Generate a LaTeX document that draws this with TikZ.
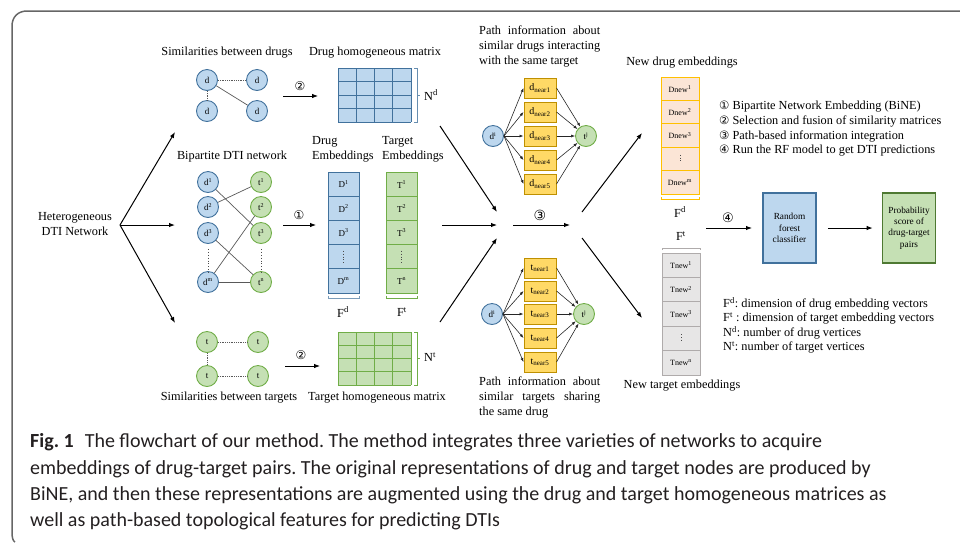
\documentclass[tikz,border=0pt]{standalone}
\usepackage{fontspec}
\setmainfont{Liberation Serif}
\newfontfamily\capfont{Carlito}
\newfontfamily\numfont{DejaVu Sans}
\usetikzlibrary{arrows.meta,positioning}
\frenchspacing

\definecolor{dfill}{HTML}{BDD7EE}
\definecolor{dline}{HTML}{41719C}
\definecolor{tfill}{HTML}{C5E0B4}
\definecolor{tline}{HTML}{70AD47}
\definecolor{nfill}{HTML}{FFD966}
\definecolor{nline}{HTML}{BF9000}
\definecolor{dnfill}{HTML}{FBE5D6}
\definecolor{dnline}{HTML}{FFC000}
\definecolor{tnfill}{HTML}{E7E6E6}
\definecolor{tnline}{HTML}{AFABAB}
\definecolor{edge}{HTML}{595959}
\definecolor{frame}{HTML}{666666}
\definecolor{captext}{HTML}{231F20}

\tikzset{
  lbl/.style={font=\fontsize{12.3}{14.8}\selectfont, inner sep=0pt},
  dnode/.style={circle, draw=dline, fill=dfill, line width=0.9pt, minimum size=21pt, inner sep=0pt, font=\fontsize{9}{9}\selectfont},
  tnode/.style={dnode, draw=tline, fill=tfill},
  dcell/.style={rectangle, draw=dline, fill=dfill, line width=0.9pt, minimum width=31pt, minimum height=24.2pt, inner sep=0pt, font=\fontsize{9}{9}\selectfont},
  tcell/.style={dcell, draw=tline, fill=tfill},
  dncell/.style={dcell, draw=dnline, fill=dnfill, minimum width=38pt, minimum height=23.4pt, font=\fontsize{8}{8}\selectfont},
  tncell/.style={dncell, draw=tnline, fill=tnfill, minimum height=24.4pt},
  nearbox/.style={rectangle, draw=nline, fill=nfill, line width=1pt, minimum width=32pt, minimum height=20pt, inner sep=0pt, font=\fontsize{10}{10}\selectfont},
  arr/.style={-{Latex[length=6pt,width=4.5pt]}, line width=1pt},
  sarr/.style={-{Latex[length=4pt,width=3pt]}, line width=0.6pt, draw=black!85},
  vdot/.style={dotted, line width=0.9pt, draw=black!70},
  num/.style={font=\numfont\fontsize{12}{12}\selectfont, inner sep=0pt},
  bigbox/.style={rectangle, line width=1.6pt, minimum width=53pt, minimum height=70pt, inner sep=0pt, align=center, font=\fontsize{9.3}{11.4}\selectfont},
  capline/.style={anchor=west, inner sep=0pt, text=captext, font=\capfont\fontsize{20}{20}\selectfont}
}

\begin{document}
\begin{tikzpicture}[x=1pt, y=-1pt]
\useasboundingbox (0,0) rectangle (960,542);

% frame
\draw[frame, line width=1.5pt] (960,11) -- (27,11) .. controls (18,11) and (12,17) .. (12,26) -- (12,532) .. controls (12,538) and (13,541) .. (15,542);

% heterogeneous network
\node[lbl, align=center] (het) at (75,224) {Heterogeneous\\DTI Network};
\coordinate (hetout) at (120,225);
\coordinate (simin) at (175,132);
\coordinate (bipin) at (175,225);
\coordinate (tsimin) at (175,323);
\draw[arr] (hetout) -- (simin);
\draw[arr] (hetout) -- (bipin);
\draw[arr] (hetout) -- (tsimin);

% similarities between drugs
\node[lbl] (simdtitle) at (227,53) {Similarities between drugs};
\node[dnode] (sd1) at (207,80) {d};
\node[dnode] (sd2) at (257,80) {d};
\node[dnode] (sd3) at (207,111) {d};
\node[dnode] (sd4) at (257,111) {d};
\draw[edge, densely dotted, line width=0.8pt] (sd1) -- (sd2);
\draw[edge, densely dotted, line width=0.8pt] (sd1) -- (sd3);
\draw[edge, line width=0.7pt] (sd1) -- (sd4);

% similarities between targets
\node[lbl] (simttitle) at (229,398) {Similarities between targets};
\node[tnode] (st1) at (207,342) {t};
\node[tnode] (st2) at (258,342) {t};
\node[tnode] (st3) at (207,376) {t};
\node[tnode] (st4) at (258,376) {t};
\draw[edge, densely dotted, line width=0.8pt] (st1) -- (st2);
\draw[edge, densely dotted, line width=0.8pt] (st1) -- (st3);
\draw[edge, densely dotted, line width=0.8pt] (st3) -- (st4);

% bipartite DTI network
\node[lbl] (biptitle) at (232,157) {Bipartite DTI network};
\foreach \i/\y/\s in {1/182/1,2/207/2,3/233/3,m/282/m}{
  \node[dnode] (bd\i) at (208,\y) {d\textsuperscript{\s}};
}
\foreach \i/\y/\s in {1/182/1,2/207/2,3/233/3,n/282/n}{
  \node[tnode] (bt\i) at (261,\y) {t\textsuperscript{\s}};
}
\draw[vdot] (bd3.south) ++(0,5) coordinate (bdd1) -- ++(0,24) coordinate (bdd2);
\draw[vdot] (bt3.south) ++(0,5) coordinate (btd1) -- ++(0,24) coordinate (btd2);
\draw[edge, line width=0.7pt] (bd1) -- (bt3);
\draw[edge, line width=0.7pt] (bd2) -- (bt1);
\draw[edge, line width=0.7pt] (bd3) -- (btn);
\draw[edge, line width=0.7pt] (bdm) -- (bt2);
\draw[edge, line width=0.7pt] (bdm) -- (btn);

% step arrows 1 and 2
\coordinate (s2a) at (283,96);  \coordinate (s2b) at (318,96);
\coordinate (s1a) at (283,225); \coordinate (s1b) at (316,225);
\coordinate (s2c) at (285,366); \coordinate (s2d) at (320,366);
\draw[arr, line width=0.8pt] (s2a) -- (s2b);
\draw[arr, line width=0.8pt] (s1a) -- (s1b);
\draw[arr, line width=0.8pt] (s2c) -- (s2d);
\node[num] (n2a) at (300,86) {②};
\node[num] (n1) at (299,215) {①};
\node[num] (n2b) at (301,355) {②};

% drug homogeneous matrix
\node[lbl] (dmtitle) at (375,53) {Drug homogeneous matrix};
\fill[dfill] (338,68) rectangle (411,122);
\foreach \k in {0,...,4}{
  \draw[dline, line width=0.9pt] ({338+\k*18.25},68) -- ({338+\k*18.25},122);
  \draw[dline, line width=0.9pt] (338,{68+\k*13.5}) -- (411,{68+\k*13.5});
}
\draw[dline!80, line width=0.8pt] (414,68) -- (417,68) -- (417,122) -- (414,122);
\draw[dline!80, line width=0.8pt] (417,95) -- (420,95);
\node[lbl, anchor=west] (nd) at (424,95) {N\textsuperscript{d}};

% target homogeneous matrix
\node[lbl] (tmtitle) at (377,398) {Target homogeneous matrix};
\fill[tfill] (338,332) rectangle (411,385);
\foreach \k in {0,...,4}{
  \draw[tline, line width=0.9pt] ({338+\k*18.25},332) -- ({338+\k*18.25},385);
  \draw[tline, line width=0.9pt] (338,{332+\k*13.25}) -- (411,{332+\k*13.25});
}
\draw[tline, line width=0.8pt] (414,332) -- (417,332) -- (417,385) -- (414,385);
\draw[tline, line width=0.8pt] (417,358) -- (420,358);
\node[lbl, anchor=west] (nt) at (424,357) {N\textsuperscript{t}};

% drug and target embeddings
\node[lbl, align=left, anchor=north west] (detitle) at (312,136) {Drug\\Embeddings};
\node[lbl, align=left, anchor=north west] (tetitle) at (382,136) {Target\\Embeddings};
\foreach \i/\t in {1/D\textsuperscript{1},2/D\textsuperscript{2},3/D\textsuperscript{3},4/,5/D\textsuperscript{m}}{
  \node[dcell] (de\i) at (343.5,{172+(\i-0.5)*24.2}) {\t};
}
\foreach \i/\t in {1/T\textsuperscript{1},2/T\textsuperscript{2},3/T\textsuperscript{3},4/,5/T\textsuperscript{n}}{
  \node[tcell] (te\i) at (401.5,{172+(\i-0.5)*24.2}) {\t};
}
\draw[vdot] ([yshift=6pt]de4.center) -- ([yshift=-6pt]de4.center);
\draw[vdot] ([yshift=6pt]te4.center) -- ([yshift=-6pt]te4.center);
\draw[dline!70, line width=0.8pt] (328,295.5) -- (328,298) -- (359,298) -- (359,295.5);
\draw[tline, line width=0.8pt] (386,295.5) -- (386,298) -- (417,298) -- (417,295.5);
\node[lbl] (fd) at (343,312) {F\textsuperscript{d}};
\node[lbl] (ft) at (402,312) {F\textsuperscript{t}};

% arrows into step 3
\coordinate (in1a) at (440,126); \coordinate (in1b) at (497,212);
\coordinate (in2a) at (442,225); \coordinate (in2b) at (497,225);
\coordinate (in3a) at (440,322); \coordinate (in3b) at (497,238);
\draw[arr] (in1a) -- (in1b);
\draw[arr] (in2a) -- (in2b);
\draw[arr] (in3a) -- (in3b);
\coordinate (s3a) at (513,225); \coordinate (s3b) at (570,225);
\draw[arr] (s3a) -- (s3b);
\node[num, font=\numfont\fontsize{14}{14}\selectfont] (n3) at (540,215) {③};
\coordinate (out1a) at (582,212); \coordinate (out1b) at (642,133);
\coordinate (out2a) at (582,238); \coordinate (out2b) at (642,318);
\draw[arr] (out1a) -- (out1b);
\draw[arr] (out2a) -- (out2b);

% path information about drugs
\node[lbl, align=left, anchor=north west] (pdtitle) at (479,26)
  {\makebox[121pt][s]{Path information about}\\\makebox[121pt][s]{similar drugs interacting}\\with the same target};
\node[dnode] (pdi) at (493,136) {d\textsuperscript{i}};
\node[tnode] (ptj) at (586,136) {t\textsuperscript{j}};
\foreach \i/\y in {1/88,2/112,3/136,4/160,5/184}{
  \node[nearbox] (dn\i) at (540,\y) {d\textsubscript{near\i}};
  \draw[sarr] (pdi.east) -- (dn\i.west);
  \draw[sarr] (dn\i.east) -- (ptj);
}

% path information about targets
\node[lbl, align=left, anchor=north west] (pttitle) at (479,377)
  {\makebox[121pt][s]{Path information about}\\\makebox[121pt][s]{similar targets sharing}\\the same drug};
\node[dnode] (tdi) at (492,314) {d\textsuperscript{i}};
\node[tnode] (ttj) at (584,314) {t\textsuperscript{j}};
\foreach \i/\y in {1/268,2/291,3/314,4/338,5/362}{
  \node[nearbox] (tn\i) at (540,\y) {t\textsubscript{near\i}};
  \draw[sarr] (tdi.east) -- (tn\i.west);
  \draw[sarr] (tn\i.east) -- (ttj);
}

% new drug embeddings
\node[lbl] (ndtitle) at (682,63) {New drug embeddings};
\foreach \i/\t in {1/Dnew\textsuperscript{1},2/Dnew\textsuperscript{2},3/Dnew\textsuperscript{3},4/,5/Dnew\textsuperscript{m}}{
  \node[dncell] (dn\i c) at (680,{77+(\i-0.5)*23.4}) {\t};
}
\draw[vdot, line width=0.7pt] ([yshift=4pt]dn4c.center) -- ([yshift=-4pt]dn4c.center);
\draw[dnline, line width=0.8pt] (661,197) -- (661,199) -- (699,199) -- (699,197);
\node[lbl] (fdn) at (680,212) {F\textsuperscript{d}};

% new target embeddings
\node[lbl] (ftn) at (681,236) {F\textsuperscript{t}};
\draw[tnline, line width=0.8pt] (662,250) -- (662,248) -- (700,248) -- (700,250);
\foreach \i/\t in {1/Tnew\textsuperscript{1},2/Tnew\textsuperscript{2},3/Tnew\textsuperscript{3},4/,5/Tnew\textsuperscript{n}}{
  \node[tncell] (tn\i c) at (681,{253+(\i-0.5)*24.4}) {\t};
}
\draw[vdot, line width=0.7pt] ([yshift=4pt]tn4c.center) -- ([yshift=-4pt]tn4c.center);
\node[lbl] (nttitle) at (682,386) {New target embeddings};

% classifier
\coordinate (s4a) at (706,228); \coordinate (s4b) at (752,228);
\draw[arr] (s4a) -- (s4b);
\node[num, font=\numfont\fontsize{13}{13}\selectfont] (n4) at (728,218) {④};
\node[bigbox, draw=dline, fill=dfill] (rf) at (789.5,228) {Random\\forest\\classifier};
\node[bigbox, draw=tline!70!black, fill=tfill] (prob) at (909,228) {Probability\\score of\\drug-target\\pairs};
\draw[arr] ([xshift=11pt]rf.east) -- ([xshift=-9pt]prob.west);

% legends
\node[lbl, anchor=west] (leg1) at (719,107) {{\numfont\fontsize{11.5}{12}\selectfont ①} Bipartite Network Embedding (BiNE)};
\node[lbl, anchor=west] (leg2) at (719,121.5) {{\numfont\fontsize{11.5}{12}\selectfont ②} Selection and fusion of similarity matrices};
\node[lbl, anchor=west] (leg3) at (719,136) {{\numfont\fontsize{11.5}{12}\selectfont ③} Path-based information integration};
\node[lbl, anchor=west] (leg4) at (719,150.5) {{\numfont\fontsize{11.5}{12}\selectfont ④} Run the RF model to get DTI predictions};
\node[lbl, anchor=west] (leg5) at (723,304) {F\textsuperscript{d}: dimension of drug embedding vectors};
\node[lbl, anchor=west] (leg6) at (723,318.5) {F\textsuperscript{t} : dimension of target embedding vectors};
\node[lbl, anchor=west] (leg7) at (723,333) {N\textsuperscript{d}: number of drug vertices};
\node[lbl, anchor=west] (leg8) at (723,347.5) {N\textsuperscript{t}: number of target vertices};

% caption
\node[capline] (cap1) at (30,442) {\textbf{Fig. 1}\hspace{0.55em}The flowchart of our method. The method integrates three varieties of networks to acquire};
\node[capline] (cap2) at (30,469) {embeddings of drug-target pairs. The original representations of drug and target nodes are produced by};
\node[capline] (cap3) at (30,495) {BiNE, and then these representations are augmented using the drug and target homogeneous matrices as};
\node[capline] (cap4) at (30,521) {well as path-based topological features for predicting DTIs};
\end{tikzpicture}
\end{document}
